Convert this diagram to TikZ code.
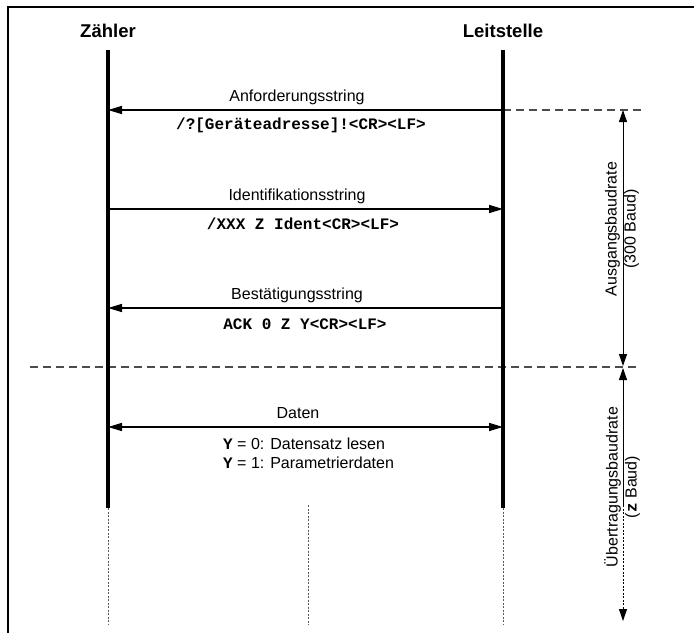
\documentclass[tikz,border=0pt]{standalone}
\usepackage{fontspec}
\setmainfont{Liberation Sans}
\setmonofont{Liberation Mono}
\usetikzlibrary{arrows.meta}
\begin{document}
\begin{tikzpicture}[x=1pt,y=-1pt,
  life/.style={line width=3.2pt},
  msg/.style={line width=1.5pt},
  tip/.style={-{Triangle[length=14pt,width=8pt]}},
  lbl/.style={font=\fontsize{16}{19}\selectfont, inner sep=0pt},
  code/.style={font=\fontsize{16}{19}\selectfont\ttfamily\bfseries, inner sep=0pt},
  ttl/.style={font=\fontsize{18.5}{22}\selectfont\bfseries, inner sep=0pt},
  guide/.style={line width=1.2pt, gray!60!black, dash pattern=on 8pt off 5pt},
  dotl/.style={gray!70!black, line width=0.9pt, dash pattern=on 2pt off 1.5pt},
  span/.style={line width=0.9pt},
  stip/.style={-{Triangle[length=12pt,width=8pt]}},
]
\useasboundingbox (0,0) rectangle (694,633);
% frame
\draw[line width=2pt] (8,633) -- (8,7) -- (694,7);

% coordinates
\coordinate (zt) at (108,50);
\coordinate (zb) at (108,508);
\coordinate (ze) at (108,625);
\coordinate (lt) at (503,50);
\coordinate (lb) at (503,508);
\coordinate (le) at (503,625);
\coordinate (mt) at (308,505);
\coordinate (me) at (308,625);

% guide lines
\coordinate (g1a) at (503,110);
\coordinate (g1b) at (645,110);
\coordinate (g2a) at (30,367);
\coordinate (g2b) at (640,367);
\draw[guide] (g1a) -- (g1b);
\draw[guide] (g2a) -- (g2b);

% titles
\node[ttl] (zaehler) at (108,31) {Zähler};
\node[ttl] (leit) at (503,31) {Leitstelle};

% lifelines
\draw[life] (zt) -- (zb);
\draw[life] (lt) -- (lb);
\draw[dotl] (zb) -- (ze);
\draw[dotl] (lb) -- (le);
\draw[dotl] (mt) -- (me);

% messages
\coordinate (z1) at (108,110); \coordinate (l1) at (503,110);
\coordinate (z2) at (108,209); \coordinate (l2) at (503,209);
\coordinate (z3) at (108,308); \coordinate (l3) at (503,308);
\coordinate (z4) at (108,427); \coordinate (l4) at (503,427);

\draw[msg,tip] (l1) -- (z1);
\draw[msg,tip] (z2) -- (l2);
\draw[msg,tip] (l3) -- (z3);
\draw[msg,{Triangle[length=14pt,width=8pt]}-{Triangle[length=14pt,width=8pt]}] (z4) -- (l4);

\node[lbl] (m1) at (297,97) {Anforderungsstring};
\node[code] (c1) at (301,125) {/?[Geräteadresse]!<CR><LF>};
\node[lbl] (m2) at (297,196) {Identifikationsstring};
\node[code] (c2) at (303,224) {/XXX Z Ident<CR><LF>};
\node[lbl] (m3) at (297,295) {Bestätigungsstring};
\node[code] (c3) at (305,324) {ACK 0 Z Y<CR><LF>};
\node[lbl] (m4) at (298,413) {Daten};
\node[lbl, align=left, anchor=north west] (c4) at (223,438)
  {{\ttfamily\bfseries Y} = 0: Datensatz lesen\\{\ttfamily\bfseries Y} = 1: Parametrierdaten};

% baud rate spans
\coordinate (s1) at (623,110);
\coordinate (s2) at (623,366);
\coordinate (s3) at (623,368);
\coordinate (s4) at (623,505);
\coordinate (s5) at (623,621);
\draw[span,{Triangle[length=12pt,width=8pt]}-{Triangle[length=12pt,width=8pt]}] (s1) -- (s2);
\draw[span,{Triangle[length=12pt,width=8pt]}-] (s3) -- (s4);
\draw[dotl,stip,black] (s4) -- (s5);

\node[lbl, rotate=90, align=center] (b1) at (622,229) {Ausgangsbaudrate\\(300 Baud)};
\node[lbl, rotate=90, align=center] (b2) at (622,487) {Übertragungsbaudrate\\({\ttfamily\bfseries z} Baud)};
\end{tikzpicture}
\end{document}
